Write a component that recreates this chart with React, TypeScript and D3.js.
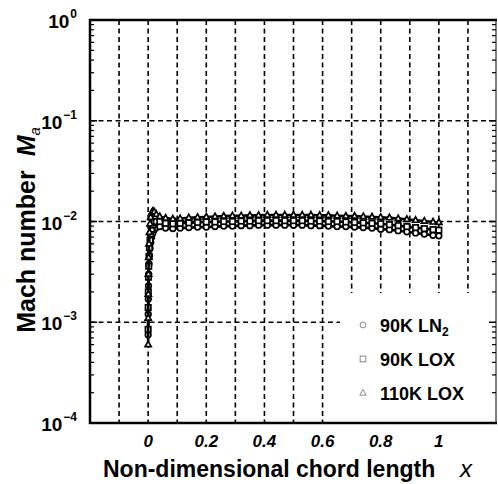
import * as d3 from 'd3'

// chord positions (clustered at the leading edge)
const xPos = [
  0, 0.0002, 0.0006, 0.0012, 0.002, 0.003, 0.0045, 0.0065, 0.009, 0.012, 0.016, 0.021, 0.028, 0.04,
  0.06, 0.085, 0.11, 0.14, 0.17, 0.2, 0.23, 0.26, 0.29, 0.32, 0.35, 0.38, 0.41, 0.44, 0.47, 0.5,
  0.53, 0.56, 0.59, 0.62, 0.65, 0.68, 0.71, 0.74, 0.77, 0.8, 0.83, 0.86, 0.89, 0.92, 0.95, 0.98, 1.0,
]

// Mach number x 1e-3
const ln2_90K = [
  0.75, 1.2, 1.7, 2.3, 3.0, 3.8, 4.6, 5.4, 6.2, 7.0, 7.7, 8.3, 8.7, 8.9,
  8.6, 8.5, 8.6, 8.7, 8.8, 8.8, 8.9, 9.0, 9.0, 9.1, 9.1, 9.2, 9.2, 9.2, 9.2, 9.2,
  9.2, 9.1, 9.1, 9.0, 8.9, 8.9, 8.8, 8.7, 8.6, 8.4, 8.3, 8.1, 7.9, 7.7, 7.5, 7.3, 7.2,
]
const lox_90K = [
  0.85, 1.4, 2.0, 2.8, 3.6, 4.5, 5.5, 6.5, 7.5, 8.4, 9.2, 9.8, 10.0, 10.0,
  9.6, 9.5, 9.6, 9.7, 9.8, 9.9, 9.9, 10.0, 10.0, 10.1, 10.1, 10.2, 10.2, 10.2, 10.2, 10.2,
  10.2, 10.1, 10.1, 10.0, 10.0, 9.9, 9.8, 9.7, 9.6, 9.5, 9.3, 9.1, 8.9, 8.7, 8.5, 8.3, 8.2,
]
const lox_110K = [
  0.6, 1.1, 1.9, 3.0, 4.4, 6.0, 7.8, 9.5, 11.0, 12.2, 12.7, 12.5, 11.8, 11.2,
  10.8, 10.6, 10.7, 10.9, 11.0, 11.1, 11.2, 11.3, 11.4, 11.4, 11.5, 11.5, 11.6, 11.6, 11.6, 11.6,
  11.6, 11.6, 11.5, 11.5, 11.4, 11.3, 11.3, 11.2, 11.1, 11.0, 10.9, 10.7, 10.5, 10.3, 10.1, 9.9, 9.8,
]

const seriesNames = ['90K LN2', '90K LOX', '110K LOX']
const seriesSymbols = ['circle', 'square', 'triangle']
const xTicks = [0, 0.2, 0.4, 0.6, 0.8, 1]
const xGrid = [-0.1, 0, 0.1, 0.2, 0.3, 0.4, 0.5, 0.6, 0.7, 0.8, 0.9, 1.0, 1.1]
const yExps = [0, -1, -2, -3, -4]

const W = 498
const H = 484
const L = 90, R = 497, T = 20, B = 423
const FONT = 'Liberation Sans, Arial, sans-serif'

function Marker({ type, x, y, s = 1, stroke = '#000', fill = '#fff', sw = 1.7 }: any) {
  if (type === 'circle') return <circle cx={x} cy={y} r={2.8 * s} fill={fill} stroke={stroke} strokeWidth={sw} />
  if (type === 'square') {
    const h = 2.7 * s
    return <rect x={x - h} y={y - h} width={2 * h} height={2 * h} fill={fill} stroke={stroke} strokeWidth={sw} />
  }
  const a = 3.4 * s
  return <path d={`M${x},${y - a}L${x + a * 0.9},${y + a * 0.6}L${x - a * 0.9},${y + a * 0.6}Z`} fill={fill} stroke={stroke} strokeWidth={sw} />
}

export default function App() {
  const x = d3.scaleLinear().domain([-0.2, 1.2]).range([L, R])
  const y = d3.scaleLog().domain([1e-4, 1]).range([B, T])

  const series = [ln2_90K, lox_90K, lox_110K].map((vals, i) => ({
    name: seriesNames[i],
    symbol: seriesSymbols[i],
    pts: vals.map((v, j) => ({ x: xPos[j], y: v * 1e-3 })),
  }))

  const line = d3.line<{ x: number; y: number }>().x(d => x(d.x)).y(d => y(d.y))

  const minor: number[] = []
  for (let e = -4; e < 0; e++) for (let k = 2; k <= 9; k++) minor.push(k * Math.pow(10, e))

  return (
    <svg width={W} height={H} style={{ position: 'absolute', left: 0, top: 0, background: '#fff' }} fontFamily={FONT}>
      {/* grid */}
      {xGrid.map(g => (
        <line key={'gx' + g} x1={x(g)} x2={x(g)} y1={T} y2={B} stroke="#000" strokeWidth={1.6} strokeDasharray="5,3.5" />
      ))}
      {yExps.slice(1, 4).map(e => (
        <line key={'gy' + e} x1={L} x2={R} y1={y(Math.pow(10, e))} y2={y(Math.pow(10, e))} stroke="#000" strokeWidth={1.6} strokeDasharray="5,3.5" />
      ))}

      {/* legend box covering grid */}
      <rect x={340} y={293} width={R - 340} height={B - 293 - 1} fill="#fff" />

      {/* series lines and markers */}
      {series.map(s => (
        <g key={s.name}>
          <path d={line(s.pts) || ''} fill="none" stroke="#000" strokeWidth={2.6} />
          {s.pts.map((p, j) => (
            <Marker key={j} type={s.symbol} x={x(p.x)} y={y(p.y)} />
          ))}
        </g>
      ))}

      {/* axes */}
      <line x1={L} x2={L} y1={T - 1} y2={B + 1} stroke="#000" strokeWidth={2.5} />
      <line x1={L - 1} x2={R} y1={B} y2={B} stroke="#000" strokeWidth={2.5} />
      <line x1={L - 1} x2={R} y1={T} y2={T} stroke="#000" strokeWidth={2.5} />
      <line x1={R - 1} x2={R - 1} y1={T} y2={B} stroke="#000" strokeWidth={1} />
      {minor.map(v => (
        <g key={'m' + v}>
          <line x1={L} x2={L + 4} y1={y(v)} y2={y(v)} stroke="#000" strokeWidth={1.2} />
          <line x1={R - 1} x2={R - 5} y1={y(v)} y2={y(v)} stroke="#000" strokeWidth={1.2} />
        </g>
      ))}
      {yExps.map(e => (
        <g key={'yt' + e}>
          <line x1={L} x2={L + 7} y1={y(Math.pow(10, e))} y2={y(Math.pow(10, e))} stroke="#000" strokeWidth={1.5} />
          <line x1={R - 1} x2={R - 8} y1={y(Math.pow(10, e))} y2={y(Math.pow(10, e))} stroke="#000" strokeWidth={1.5} />
        </g>
      ))}

      {/* y tick labels */}
      {yExps.map(e => (
        <text key={'yl' + e} x={77} y={y(Math.pow(10, e)) + 8} textAnchor="end" fontSize={19} fontWeight="bold">
          10
          <tspan dx={1} dy={-10} fontSize={12}>{e < 0 ? '\u2212' + -e : e}</tspan>
        </text>
      ))}

      {/* x tick labels */}
      {xTicks.map(t => (
        <text key={'xl' + t} x={x(t)} y={447} textAnchor="middle" fontSize={17} fontStyle="italic" fontWeight="bold">
          {t}
        </text>
      ))}

      {/* axis titles */}
      <text x={103} y={477} fontSize={23} fontWeight="bold">Non-dimensional chord length</text>
      <text x={466} y={477} fontSize={24} fontStyle="italic" textAnchor="middle">x</text>
      <text transform="translate(35,230) rotate(-90)" textAnchor="middle" fontSize={25} fontWeight="bold">
        Mach number<tspan dx={14} fontStyle="italic">M</tspan>
        <tspan fontSize={15} dy={5} fontStyle="italic" fontWeight="normal">a</tspan>
      </text>

      {/* legend */}
      {series.map((s, i) => (
        <g key={'lg' + s.name} transform={`translate(0,${325 + i * 34})`}>
          <Marker type={s.symbol} x={363} y={0} s={1.05} stroke="#888" sw={1} />
          <text x={380} y={7} fontSize={18} fontWeight="bold">
            {i === 0 ? (
              <>90K LN<tspan fontSize={12} dy={4}>2</tspan></>
            ) : s.name}
          </text>
        </g>
      ))}
    </svg>
  )
}
